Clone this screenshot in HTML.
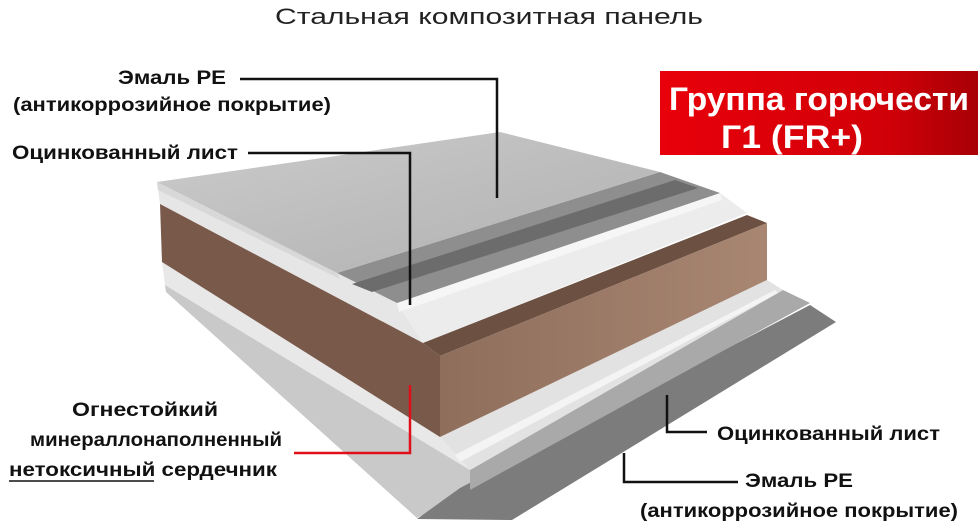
<!DOCTYPE html>
<html><head><meta charset="utf-8"><style>
html,body{margin:0;padding:0;background:#fff}
svg{display:block}
text{font-family:"Liberation Sans","DejaVu Sans",sans-serif}
</style></head><body>
<svg width="978" height="528" viewBox="0 0 978 528" xmlns="http://www.w3.org/2000/svg">
<defs>
<linearGradient id="red" x1="0" y1="0" x2="1" y2="0"><stop offset="0" stop-color="#e8000a"/><stop offset="0.7" stop-color="#d20008"/><stop offset="1" stop-color="#a80006"/></linearGradient>
<linearGradient id="topg" x1="0" y1="0" x2="1" y2="1"><stop offset="0" stop-color="#cbcbcb"/><stop offset="1" stop-color="#b0b0b0"/></linearGradient>
<linearGradient id="brR" x1="0" y1="0" x2="1" y2="0"><stop offset="0" stop-color="#8f6e5c"/><stop offset="1" stop-color="#a88672"/></linearGradient>
</defs>
<text x="489" y="24" text-anchor="middle" font-size="22" fill="#222" textLength="428" lengthAdjust="spacingAndGlyphs">Стальная композитная панель</text>

<!-- lower left faces -->
<polygon points="165,285 470,470 470,490 417,518 166,292" fill="#c9c9c9"/>
<polygon points="162,262 440,437 470,470 165,285" fill="#e8e8e8"/>
<!-- bottom layers -->
<polygon points="460,488 810,305 836,322 512,520 417,519" fill="#7c7c7c"/>
<polygon points="470,470 783,290 810,303 470,490" fill="#a9a9a9"/>
<polygon points="440,437 767,280 783,290 470,470" fill="#e2e2e2"/>
<polygon points="455,455 775,290 778,293 460,462" fill="#f4f4f4"/>
<!-- white sheet -->
<polygon points="157,182 337,273 397,303 423,343 160,204" fill="#e6e6e6"/>
<polygon points="397,303 720,193 747,213 423,343" fill="#ececec"/>
<polygon points="397,303 720,193 722,200 399,312" fill="#f6f6f6"/>
<!-- brown core -->
<polygon points="160,204 423,343 440,356 440,437 162,262" fill="#79594a"/>
<polygon points="423,343 747,215 767,223 440,356" fill="#6c5143"/>
<polygon points="440,356 767,223 767,280 440,437" fill="url(#brR)"/>
<!-- dark band -->
<polygon points="337,273 660,172 720,193 397,303" fill="#8e8e8e"/>
<polygon points="352,284 675,180 698,188 372,292" fill="#6c6c6c"/>
<!-- top gray -->
<polygon points="157,182 500,132 660,172 337,273" fill="url(#topg)"/>
<polygon points="157,182 337,273 340,279 158,190" fill="#d8d8d8"/>

<!-- red badge -->
<rect x="660" y="71" width="318" height="84" fill="url(#red)"/>
<text x="819" y="110" text-anchor="middle" font-size="32" font-weight="bold" fill="#fff" textLength="300" lengthAdjust="spacingAndGlyphs">Группа горючести</text>
<text x="792" y="148" text-anchor="middle" font-size="32" font-weight="bold" fill="#fff" textLength="142" lengthAdjust="spacingAndGlyphs">Г1 (FR+)</text>

<!-- labels -->
<g font-size="19" font-weight="bold" fill="#111">
<text x="172" y="84" text-anchor="middle" textLength="108" lengthAdjust="spacingAndGlyphs">Эмаль PE</text>
<text x="172" y="111" text-anchor="middle" textLength="318" lengthAdjust="spacingAndGlyphs">(антикоррозийное покрытие)</text>
<text x="12" y="159" textLength="226" lengthAdjust="spacingAndGlyphs">Оцинкованный лист</text>
<text x="145" y="416" text-anchor="middle" textLength="146" lengthAdjust="spacingAndGlyphs">Огнестойкий</text>
<text x="156" y="446" text-anchor="middle" textLength="252" lengthAdjust="spacingAndGlyphs">минераллонаполненный</text>
<text x="9" y="476" textLength="268" lengthAdjust="spacingAndGlyphs">нетоксичный сердечник</text>
<text x="717" y="440" textLength="223" lengthAdjust="spacingAndGlyphs">Оцинкованный лист</text>
<text x="745" y="487" textLength="108" lengthAdjust="spacingAndGlyphs">Эмаль PE</text>
<text x="640" y="517" textLength="318" lengthAdjust="spacingAndGlyphs">(антикоррозийное покрытие)</text>
</g>
<line x1="9" y1="481" x2="154" y2="481" stroke="#111" stroke-width="1.5"/>

<!-- leader lines -->
<g fill="none" stroke="#111" stroke-width="2.5">
<polyline points="240,79 497,79 497,198"/>
<polyline points="248,153 410,153 410,305"/>
<polyline points="667,395 667,432 707,432"/>
<polyline points="624,453 624,482 738,482"/>
</g>
<polyline points="294,453 410,453 410,385" fill="none" stroke="#e0101a" stroke-width="2.5"/>
</svg>
</body></html>
